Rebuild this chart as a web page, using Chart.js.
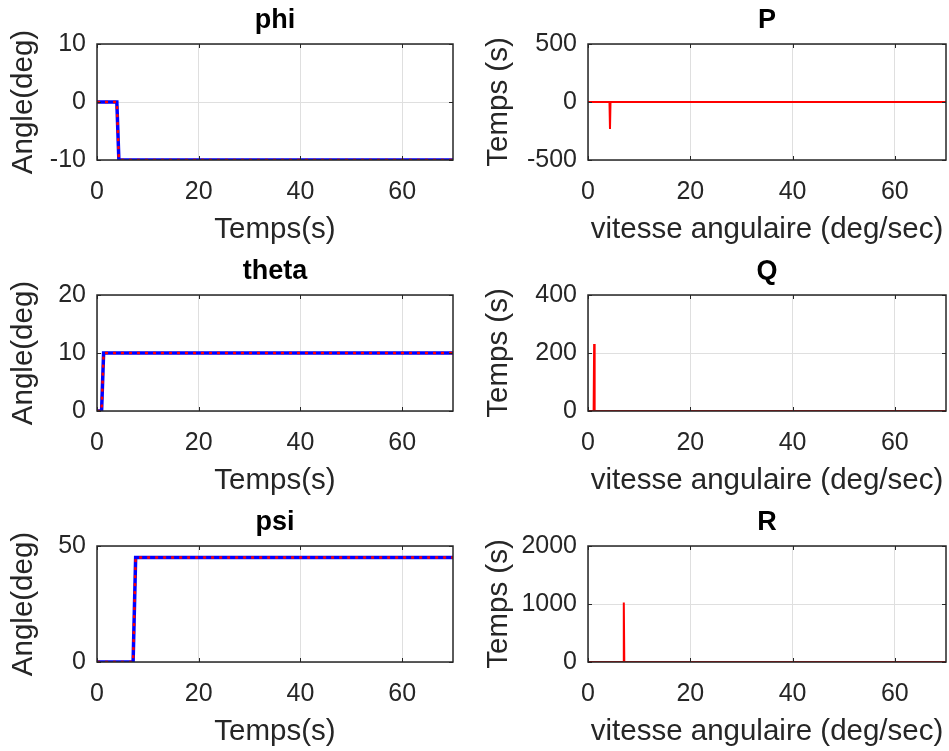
<!DOCTYPE html>
<html>
<head>
<meta charset="utf-8">
<script src="https://cdn.jsdelivr.net/npm/chart.js@4.4.1/dist/chart.umd.min.js"></script>
<style>
  body { margin: 0; background: #fff; overflow: hidden; }
  canvas { position: absolute; }
</style>
</head>
<body>
<canvas id="phi" width="470" height="250" style="left:0;top:0"></canvas>
<canvas id="p" width="479" height="250" style="left:470px;top:0"></canvas>
<canvas id="theta" width="470" height="250" style="left:0;top:251px"></canvas>
<canvas id="q" width="479" height="250" style="left:470px;top:251px"></canvas>
<canvas id="psi" width="470" height="250" style="left:0;top:502px"></canvas>
<canvas id="r" width="479" height="250" style="left:470px;top:502px"></canvas>
<script>
// donnees
var phiT = [0, 3.9, 4.3, 70];
var phiV = [0, 0, -10, -10];
var thetaT = [0, 0.9, 1.3, 70];
var thetaV = [0, 0, 10, 10];
var psiT = [0, 7.1, 7.6, 70];
var psiV = [0, 0, 45, 45];

var pT = [0, 4.2, 4.3, 4.4, 70];
var pV = [0, 0, -233, 0, 0];
var qT = [0, 1.1, 1.2, 1.3, 70];
var qV = [0, 0, 231, 0, 0];
var rT = [0, 6.9, 7.0, 7.1, 70];
var rV = [0, 0, 1026, 0, 0];

var xTicks = [0, 20, 40, 60];

var FONT = "'Liberation Sans', Arial, sans-serif";
var AXC = "#262626";

function pts(t, v) {
  var out = [];
  for (var i = 0; i < t.length; i++) out.push({ x: t[i], y: v[i] });
  return out;
}

// cadre + petites graduations vers l'interieur (style matlab)
var boxPlugin = {
  id: "box",
  afterDraw: function (chart) {
    var a = chart.chartArea, ctx = chart.ctx;
    var xs = chart.scales.x, ys = chart.scales.y;
    ctx.save();
    ctx.strokeStyle = AXC;
    ctx.lineWidth = 1;
    xs.ticks.forEach(function (t) {
      var px = Math.round(xs.getPixelForValue(t.value)) + 0.5;
      ctx.beginPath();
      ctx.moveTo(px, a.bottom); ctx.lineTo(px, a.bottom - 4);
      ctx.moveTo(px, a.top); ctx.lineTo(px, a.top + 4);
      ctx.stroke();
    });
    ys.ticks.forEach(function (t) {
      var py = Math.round(ys.getPixelForValue(t.value)) + 0.5;
      ctx.beginPath();
      ctx.moveTo(a.left, py); ctx.lineTo(a.left + 4, py);
      ctx.moveTo(a.right, py); ctx.lineTo(a.right - 4, py);
      ctx.stroke();
    });
    ctx.lineWidth = 1.5;
    ctx.strokeRect(a.left, a.top, a.right - a.left, a.bottom - a.top);
    ctx.restore();
  }
};

function makeChart(id, title, datasets, yMin, yMax, yStep, yTitle, xTitle, yWidth, yTitlePad, padRight) {
  return new Chart(document.getElementById(id), {
    type: "line",
    data: { datasets: datasets },
    options: {
      responsive: false,
      animation: false,
      layout: { padding: { left: 0, right: padRight, top: 0, bottom: 0 } },
      plugins: {
        legend: { display: false },
        tooltip: { enabled: false }
      },
      elements: { point: { radius: 0 }, line: { tension: 0 } },
      scales: {
        x: {
          type: "linear",
          min: 0, max: 70,
          afterBuildTicks: function (s) { s.ticks = xTicks.map(function (v) { return { value: v }; }); },
          afterFit: function (s) { s.height = 90; },
          grid: { color: "#dfdfdf", drawTicks: false },
          border: { display: false },
          ticks: { color: AXC, padding: 17, maxRotation: 0, font: { family: FONT, size: 25 } },
          title: { display: true, text: xTitle, color: AXC, font: { family: FONT, size: 29.5 }, padding: { top: 0, bottom: 2 } }
        },
        // axe du haut seulement pour le titre, centre sur la zone du graphe
        x2: {
          type: "linear",
          position: "top",
          min: 0, max: 70,
          afterFit: function (s) { s.height = 44; },
          grid: { display: false },
          border: { display: false },
          ticks: { display: false },
          title: { display: true, text: title, color: "#000", font: { family: FONT, size: 27, weight: "bold" }, padding: { top: 4, bottom: 0 } }
        },
        y: {
          min: yMin, max: yMax,
          ticks: {
            stepSize: yStep, color: AXC, padding: 11, font: { family: FONT, size: 25 },
            callback: function (v) { return String(v); }
          },
          afterFit: function (s) { s.width = yWidth; },
          grid: { color: "#dfdfdf", drawTicks: false },
          border: { display: false },
          title: { display: true, text: yTitle, color: AXC, font: { family: FONT, size: 29.5 }, padding: { top: yTitlePad, bottom: 0 } }
        }
      }
    },
    plugins: [boxPlugin]
  });
}

function leftSets(t, v) {
  return [
    { data: pts(t, v), borderColor: "#ff0000", borderWidth: 2.5, borderDash: [3, 5] },
    { data: pts(t, v), borderColor: "#0000ff", borderWidth: 3.5 }
  ];
}
function rightSets(t, v) {
  return [{ data: pts(t, v), borderColor: "#ff0000", borderWidth: 2 }];
}

makeChart("phi", "phi", leftSets(phiT, phiV), -10, 10, 10, "Angle(deg)", "Temps(s)", 97, 6, 17);
makeChart("theta", "theta", leftSets(thetaT, thetaV), 0, 20, 10, "Angle(deg)", "Temps(s)", 97, 6, 17);
makeChart("psi", "psi", leftSets(psiT, psiV), 0, 50, 50, "Angle(deg)", "Temps(s)", 97, 6, 17);
makeChart("p", "P", rightSets(pT, pV), -500, 500, 500, "Temps (s)", "vitesse angulaire (deg/sec)", 118, 11.5, 3);
makeChart("q", "Q", rightSets(qT, qV), 0, 400, 200, "Temps (s)", "vitesse angulaire (deg/sec)", 118, 11.5, 3);
makeChart("r", "R", rightSets(rT, rV), 0, 2000, 1000, "Temps (s)", "vitesse angulaire (deg/sec)", 118, 11.5, 3);
</script>
</body>
</html>
